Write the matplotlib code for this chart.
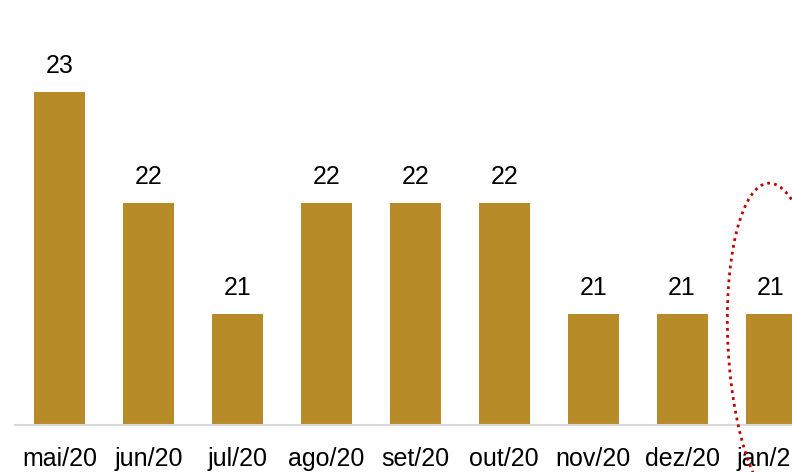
import matplotlib
matplotlib.use("Agg")
import matplotlib.pyplot as plt
from matplotlib.patches import Ellipse

categories = ["mai/20", "jun/20", "jul/20", "ago/20", "set/20", "out/20", "nov/20", "dez/20", "jan/21"]
values = [23, 22, 21, 22, 22, 22, 21, 21, 21]
labels = ["23", "22", "21", "22", "22", "22", "21", "21", "21"]

plt.rcParams['font.family'] = ['Liberation Sans', 'DejaVu Sans']

W, H = 792, 472
fig = plt.figure(figsize=(W / 100, H / 100), dpi=100)
ax = fig.add_axes([15 / W, 47 / H, 777 / W, 425 / H])

x = list(range(len(categories)))
ax.bar(x, values, width=51 / 89, color="#B68B28", zorder=2)
ax.set_xlim(-0.5, 8 + 21 / 89)
ax.set_ylim(20, 20 + 425 / 111)

for xi, v, lab in zip(x, values, labels):
    ax.annotate(lab, (xi, v), xytext=(0, 10), textcoords="offset points",
                ha="center", va="bottom", fontsize=18, color="black")

ax.set_xticks(x)
ax.set_xticklabels(categories, fontsize=18)
ax.tick_params(axis="x", length=0, pad=16)
ax.set_yticks([])
for s in ["top", "right", "left"]:
    ax.spines[s].set_visible(False)
ax.spines["bottom"].set_color("#D9D9D9")
ax.spines["bottom"].set_linewidth(1.5)

# dotted red ellipse (figure pixel coordinates, origin at top-left of picture)
cx, cy, ew, eh = 777, 345, 98, 324
ell = Ellipse((cx / 100, (H - cy) / 100), ew / 100, eh / 100, angle=3,
              transform=fig.dpi_scale_trans,
              fill=False, edgecolor="#C00000", linestyle=(0, (1, 1.5)),
              linewidth=2, zorder=5)
fig.add_artist(ell)

fig.savefig("out.png", dpi=100)
